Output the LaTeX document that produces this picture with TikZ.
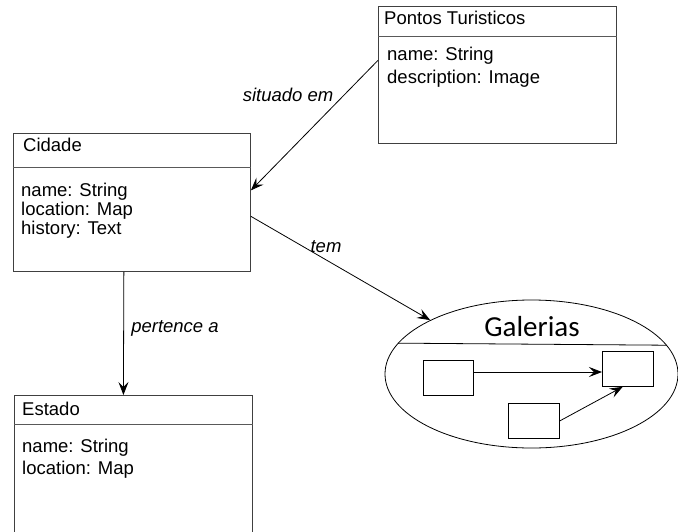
\documentclass[tikz,border=0pt]{standalone}
\usepackage{fontspec}
\setmainfont{Liberation Sans}
\newfontfamily\galfont{Carlito}
\usetikzlibrary{shapes.geometric,arrows.meta,calc}
\begin{document}
\begin{tikzpicture}[x=1pt,y=-1pt,
  box/.style={draw=black!75, line width=0.9pt, inner sep=0pt, anchor=north west},
  sep/.style={draw=black!65, line width=0.9pt},
  txt/.style={anchor=west, inner sep=0pt, font=\fontsize{18.5}{18.5}\selectfont, text height=13.5pt, text depth=4pt},
  lbl/.style={inner sep=0pt, font=\fontsize{18.5}{18.5}\selectfont\itshape},
  conn/.style={line width=0.8pt, -{Stealth[length=13pt,width=10pt,inset=5pt]}},
  small/.style={draw=black, line width=0.8pt, inner sep=0pt, anchor=north west}]
\useasboundingbox (0,0) rectangle (678,531);

% Pontos Turisticos
\node[box, minimum width=238pt, minimum height=137pt] (pontos) at (378,6) {};
\draw[sep] ($(pontos.north west)+(0,30)$) -- ($(pontos.north east)+(0,30)$);
\node[txt] (pt) at (384,20) {Pontos Turisticos};
\node[txt] (pa1) at (387,56) {name: String};
\node[txt] (pa2) at (387,79) {description: Image};

% Cidade
\node[box, minimum width=237pt, minimum height=138pt] (cidade) at (13,133) {};
\draw[sep] ($(cidade.north west)+(0,34)$) -- ($(cidade.north east)+(0,34)$);
\node[txt] (ct) at (23,147) {Cidade};
\node[txt] (ca1) at (21,192) {name: String};
\node[txt] (ca2) at (21,211) {location: Map};
\node[txt] (ca3) at (21,230) {history: Text};

% Estado (bottom cut by the page edge)
\begin{scope}
\clip (0,0) rectangle (678,531);
\node[box, minimum width=238pt, minimum height=150pt] (estado) at (14,395) {};
\end{scope}
\draw[sep] ($(estado.north west)+(0,29)$) -- ($(estado.north east)+(0,29)$);
\node[txt] (et) at (22,411) {Estado};
\node[txt] (ea1) at (22,448) {name: String};
\node[txt] (ea2) at (22,470) {location: Map};

% Galerias
\node[draw, ellipse, line width=0.8pt, minimum width=293pt, minimum height=148pt, inner sep=0pt] (gal) at (531.5,374) {};
\draw[line width=0.8pt] (gal.12.6) -- (gal.167.4);
\node[inner sep=0pt, font=\galfont\fontsize{29}{29}\selectfont] (galt) at (532,327) {Galerias};
\node[small, minimum width=50pt, minimum height=35pt] (b1) at (423,360) {};
\node[small, minimum width=51pt, minimum height=35pt] (b2) at (602,351) {};
\node[small, minimum width=51pt, minimum height=35pt] (b3) at (508,403) {};
\draw[conn] (b1.east |- 0,372) -- (b2.west |- 0,372);
\draw[conn] (b3.east) -- ($(b2.south west)!0.4!(b2.south east)$);

% connectors
\draw[conn] ($(pontos.north west)!0.394!(pontos.south west)$) -- ($(cidade.north east)!0.413!(cidade.south east)$);
\node[lbl] (l1) at (288,95) {situado em};
\draw[conn] ($(cidade.north east)!0.6!(cidade.south east)$) -- (gal.152);
\node[lbl] (l2) at (326,247) {tem};
\draw[conn] ($(cidade.south west)!0.466!(cidade.south east)$) -- ($(estado.north west)!0.458!(estado.north east)$);
\node[lbl] (l3) at (175,328) {pertence a};
\end{tikzpicture}
\end{document}
